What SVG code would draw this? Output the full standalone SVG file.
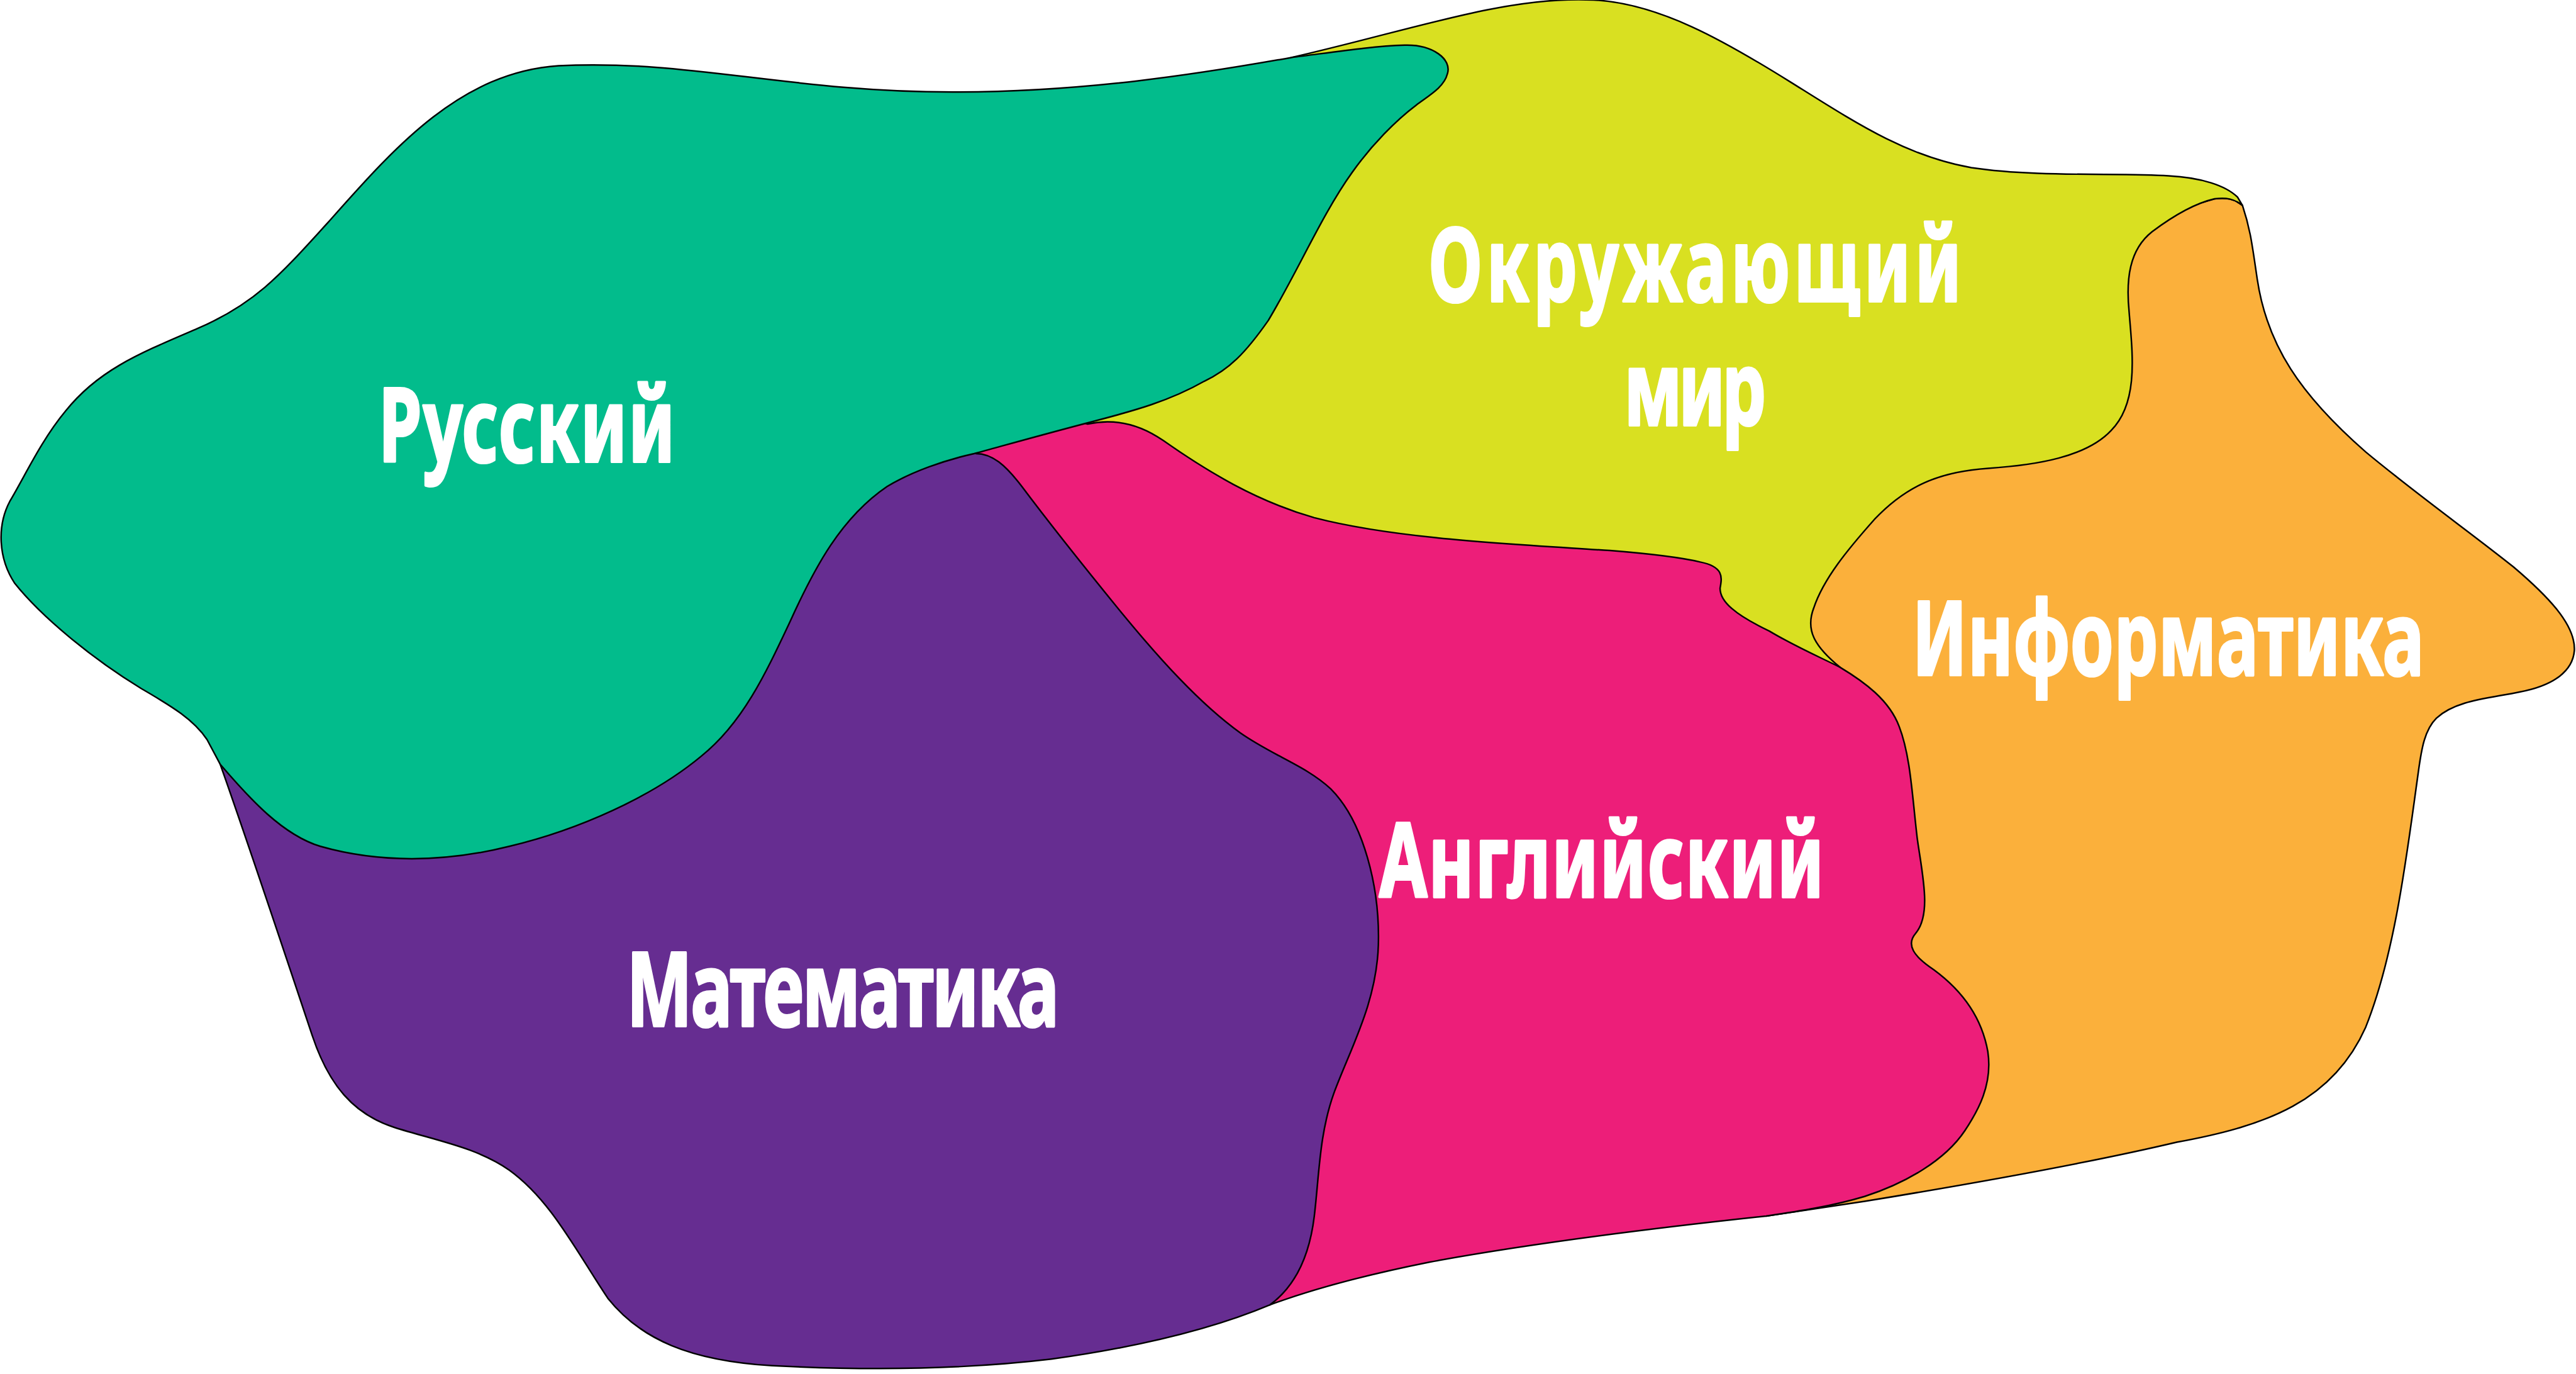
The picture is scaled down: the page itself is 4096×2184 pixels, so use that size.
<svg xmlns="http://www.w3.org/2000/svg" width="4096" height="2184" viewBox="0 0 4096 2184">
<style>
.r{stroke:#000;stroke-width:0.95;stroke-linejoin:round}
.t{font-family:"Noto Sans","DejaVu Sans",sans-serif;font-weight:700;font-size:62.2px;fill:#fff;stroke:#fff;stroke-width:1.6px;stroke-linejoin:round}
</style>
<rect width="4096" height="2184" fill="#fff"/>
<g transform="scale(2.61224)">
<g id="informatika">
<path class="r" fill="#FBB03B" d="M1365,125 C1370,140 1371,150 1374,170 C1380,210 1400,240 1440,275 C1470,300 1505,325 1530,345 C1550,362 1568,380 1567,396 C1566,408 1555,417 1534,421 C1515,425 1495,426 1483,437 C1476,444 1474,455 1472,470 C1465,520 1458,580 1440,625 C1420,670 1380,685 1325,695 C1270,708 1190,722 1135,731 C1115,734 1095,737 1075,740 L1000,650 L1050,420 L1080,340 L1250,200 L1300,135 L1348,121 C1355,120 1360,121 1365,125 Z"/>
<text class="t" transform="translate(1164,410.8) scale(0.68,1)" textLength="458.1" lengthAdjust="spacing">Информатика</text>
</g>
<g id="okruzhayushchiy-mir">
<path class="r" fill="#D9E021" d="M786,35 C830,25 870,13 905,6 C930,1 950,-1 970,0 C1010,2 1050,25 1090,50 C1130,75 1160,95 1200,102 C1240,108 1290,105 1320,107 C1340,108 1355,113 1362,120 L1365,125 C1360,121 1355,120 1348,121 C1335,124 1322,132 1310,141 C1296,152 1294,170 1296,190 C1298,215 1302,245 1285,262 C1270,278 1240,283 1210,285 C1180,287 1160,296 1141,316 C1125,334 1110,352 1104,370 C1099,383 1104,393 1120,406 L1000,450 L750,400 L640,300 L620,230 L760,120 L800,45 Z"/>
</g>
<g id="angliyskiy">
<path class="r" fill="#ED1E79" d="M662,258 C680,254 695,259 708,268 C735,287 765,305 800,315 C850,328 920,331 980,335 C1005,337 1022,339 1035,342 C1050,345 1048,352 1047,358 C1047,366 1056,374 1077,384 C1092,393 1108,400 1120,406 C1135,415 1150,426 1156,442 C1163,460 1164,485 1167,510 C1170,532 1176,556 1166,568 C1160,575 1165,582 1177,590 C1192,601 1206,617 1210,640 C1213,660 1204,676 1196,688 C1184,706 1160,720 1135,728 C1115,734 1095,737 1075,740 C1000,748 930,757 870,768 C830,776 800,784 773,794 L700,600 L600,400 L560,300 L600,240 Z"/>
</g>
<g id="matematika">
<path class="r" fill="#662D91" d="M134,465 C150,510 170,570 190,630 C200,660 215,678 240,686 C265,694 290,698 310,712 C335,730 350,760 370,790 C390,815 420,828 470,831 C530,834 590,833 640,827 C690,820 735,810 773,794 C788,783 797,765 800,740 C803,715 803,690 812,665 C822,638 838,610 839,575 C840,540 830,500 810,480 C795,466 775,460 755,446 C730,428 705,400 682,372 C660,345 640,320 622,296 C612,283 604,276 594,276 L580,270 L500,300 L420,420 L300,480 L180,470 Z"/>
</g>
<g id="russkiy">
<path class="r" fill="#02BC8C" d="M786,35 C810,32 835,28 855,27.5 C872,27 884,36 881,45 C879,53 870,58 862,64 C850,73 835,88 823,105 C805,130 790,165 772,195 C758,215 748,225 733,232 C712,244 690,250 667,256 C640,263 615,270 593,276 C575,280 555,287 540,296 C512,315 496,345 481,378 C466,410 452,440 427,460 C397,485 352,505 310,515 C270,525 230,525 195,515 C172,508 152,486 134,465 L126,450 C118,438 105,430 86,419 C55,400 25,375 9,355 C-1,340 -2,320 6,305 C15,290 25,268 40,250 C60,225 85,215 120,200 C155,185 170,168 200,135 C240,90 280,44 340,40 C420,36 480,56 580,56 C660,56 730,45 786,35 Z"/>
</g>
<g id="labels">
<text class="t" transform="translate(230.5,281) scale(0.68,1)" textLength="265.4" lengthAdjust="spacing">Русский</text>
<text class="t" transform="translate(869.5,183.2) scale(0.68,1)"><tspan x="0" y="0" textLength="477.2" lengthAdjust="spacing">Окружающий</tspan><tspan x="175" y="75.4" textLength="127.2" lengthAdjust="spacing">мир</tspan></text>
<text class="t" transform="translate(839.5,545.9) scale(0.68,1)" textLength="398.2" lengthAdjust="spacing">Английский</text>
<text class="t" transform="translate(381.5,624.5) scale(0.68,1)" textLength="386.9" lengthAdjust="spacing">Математика</text>
</g>
</g>
</svg>
